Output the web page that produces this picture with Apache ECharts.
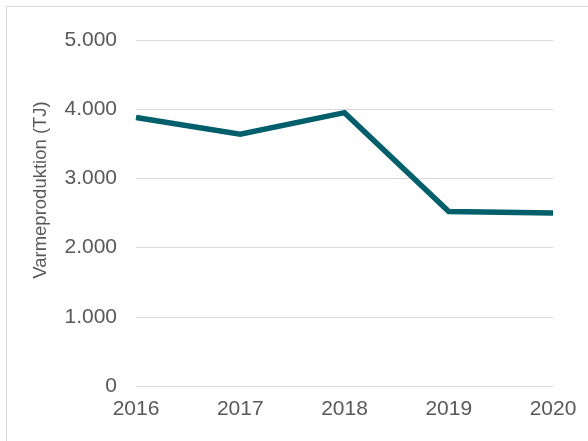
<!DOCTYPE html>
<html>
<head>
<meta charset="utf-8">
<script src="https://cdn.jsdelivr.net/npm/echarts@6/dist/echarts.min.js"></script>
<style>
  html, body { margin: 0; padding: 0; background: #fff; }
  #frame { position: absolute; left: 6px; top: 6px; width: 640px; height: 500px; border: 1px solid #d9d9d9; }
  #chart { position: absolute; left: 0; top: 0; width: 588px; height: 441px; }
</style>
</head>
<body>
<div id="frame"></div>
<div id="chart"></div>
<script>
// varmeproduktion pr. år (TJ)
const years = ['2016', '2017', '2018', '2019', '2020']
const varme = [3880, 3640, 3950, 2520, 2500]
const yTicks = [0, 1000, 2000, 3000, 4000, 5000]

const fmt = v => v === 0 ? '0' : v.toString().replace(/\B(?=(\d{3})+(?!\d))/g, '.')

const chart = echarts.init(document.getElementById('chart'))
chart.setOption({
  animation: false,
  textStyle: { fontFamily: 'Liberation Sans, Arial, sans-serif' },
  grid: { left: 136, right: 35, top: 40, bottom: 55 },
  xAxis: {
    type: 'category',
    data: years,
    boundaryGap: false,
    axisLine: { show: false },
    axisTick: { show: false },
    axisLabel: { color: '#595959', fontSize: 21, margin: 13 }
  },
  yAxis: {
    type: 'value',
    min: yTicks[0],
    max: yTicks[yTicks.length - 1],
    interval: 1000,
    name: 'Varmeproduktion (TJ)',
    nameLocation: 'middle',
    nameGap: 86,
    // name sits a bit above the middle of the axis
    nameTextStyle: { color: '#595959', fontSize: 18.5, padding: [0, 0, 0, 46] },
    axisLine: { show: false },
    axisTick: { show: false },
    axisLabel: { color: '#595959', fontSize: 21, margin: 19, formatter: fmt },
    splitLine: { lineStyle: { color: '#d9d9d9', width: 1 } }
  },
  series: [{
    type: 'line',
    data: varme,
    symbol: 'none',
    lineStyle: { color: '#005F6B', width: 5.5, join: 'miter' }
  }]
})
</script>
</body>
</html>
